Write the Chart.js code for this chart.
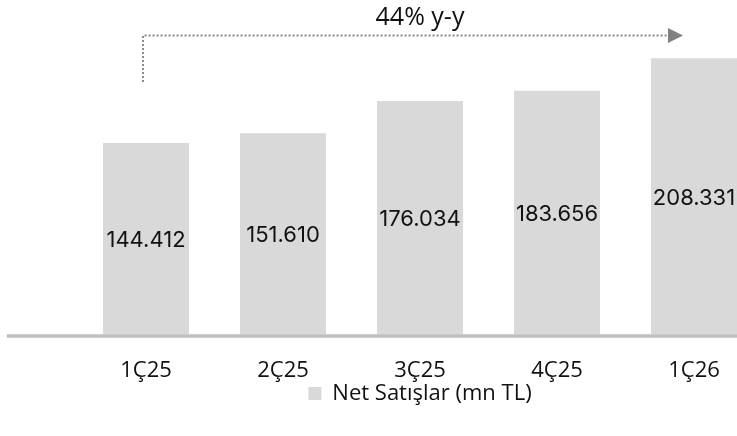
<!DOCTYPE html>
<html><head><meta charset="utf-8">
<script src="https://cdn.jsdelivr.net/npm/chart.js@4/dist/chart.umd.min.js"></script>
<style>
html,body{margin:0;padding:0;background:#fff;overflow:hidden}
#wrap{width:737px;height:436px;overflow:hidden;position:relative;background:#fff}
canvas{position:absolute;left:0;top:0}
</style></head><body>
<div id="wrap"><canvas id="c" width="840" height="436"></canvas></div>
<script>
const categories = ['1Ç25', '2Ç25', '3Ç25', '4Ç25', '1Ç26'];
const netSales = [144412, 151610, 176034, 183656, 208331];
const seriesName = 'Net Satışlar (mn TL)';
const growthLabel = '44% y-y';

function fmt(v) { return String(v).replace(/\B(?=(\d{3})+(?!\d))/g, '.'); }

const baselinePlugin = {
  id: 'baseline',
  afterDatasetsDraw(chart) {
    const {ctx} = chart;
    const y = chart.scales.y.getPixelForValue(0);
    ctx.save();
    ctx.strokeStyle = '#bfbfbf';
    ctx.lineWidth = 3.5;
    ctx.beginPath();
    ctx.moveTo(7, y + 1.5);
    ctx.lineTo(chart.width, y + 1.5);
    ctx.stroke();
    ctx.restore();
  }
};

const valueLabels = {
  id: 'valueLabels',
  afterDatasetsDraw(chart) {
    const {ctx} = chart;
    const meta = chart.getDatasetMeta(0);
    ctx.save();
    ctx.font = '22px Inter, "Open Sans", sans-serif';
    ctx.fillStyle = '#111';
    ctx.textAlign = 'center';
    ctx.textBaseline = 'middle';
    meta.data.forEach((bar, i) => {
      const mid = (bar.y + bar.base) / 2;
      ctx.fillText(fmt(netSales[i]), bar.x, mid + 2);
    });
    ctx.restore();
  }
};

const arrowPlugin = {
  id: 'growthArrow',
  afterDraw(chart) {
    const {ctx} = chart;
    const xs = chart.scales.x, ys = chart.scales.y;
    const x0 = xs.getPixelForValue(0) - 3;
    const x1 = xs.getPixelForValue(categories.length - 1) - 11;
    const hy = chart.chartArea.top - 4.5;
    const vy = ys.getPixelForValue(netSales[0]) - 61;
    ctx.save();
    ctx.strokeStyle = '#8a8a8a';
    ctx.lineWidth = 2;
    ctx.setLineDash([2, 2]);
    ctx.beginPath();
    ctx.moveTo(x0, vy);
    ctx.lineTo(x0, hy);
    ctx.lineTo(x1 - 15, hy);
    ctx.stroke();
    ctx.setLineDash([]);
    ctx.fillStyle = '#808080';
    ctx.beginPath();
    ctx.moveTo(x1 - 15, hy - 7.5);
    ctx.lineTo(x1, hy);
    ctx.lineTo(x1 - 15, hy + 7.5);
    ctx.closePath();
    ctx.fill();
    ctx.restore();
  }
};

new Chart(document.getElementById('c'), {
  type: 'bar',
  data: {
    labels: categories,
    datasets: [{
      label: seriesName,
      data: netSales,
      backgroundColor: '#d9d9d9',
      borderWidth: 0,
      categoryPercentage: 1,
      barPercentage: 0.628
    }]
  },
  options: {
    responsive: false,
    animation: false,
    devicePixelRatio: 1,
    layout: { padding: { left: 77.5, right: 77.5, top: 0, bottom: 21.6 } },
    scales: {
      x: {
        grid: { display: false, drawTicks: false },
        border: { display: false },
        ticks: { color: '#111', padding: 25, font: { size: 22, lineHeight: 1.0, family: '"Open Sans", sans-serif' } },
        afterFit(scale) { scale.height = 48; }
      },
      y: {
        display: false,
        min: 0,
        max: 222000
      }
    },
    plugins: {
      title: {
        display: true,
        text: growthLabel,
        color: '#111',
        font: { size: 25, weight: 'normal', family: '"Open Sans", sans-serif' },
        padding: { top: 3, bottom: 7 }
      },
      legend: {
        position: 'bottom',
        labels: {
          color: '#111',
          boxWidth: 13,
          boxHeight: 13,
          padding: 0,
          font: { size: 22, family: '"Open Sans", sans-serif' }
        }
      },
      tooltip: { enabled: false }
    }
  },
  plugins: [baselinePlugin, valueLabels, arrowPlugin]
});
</script>
</body></html>
